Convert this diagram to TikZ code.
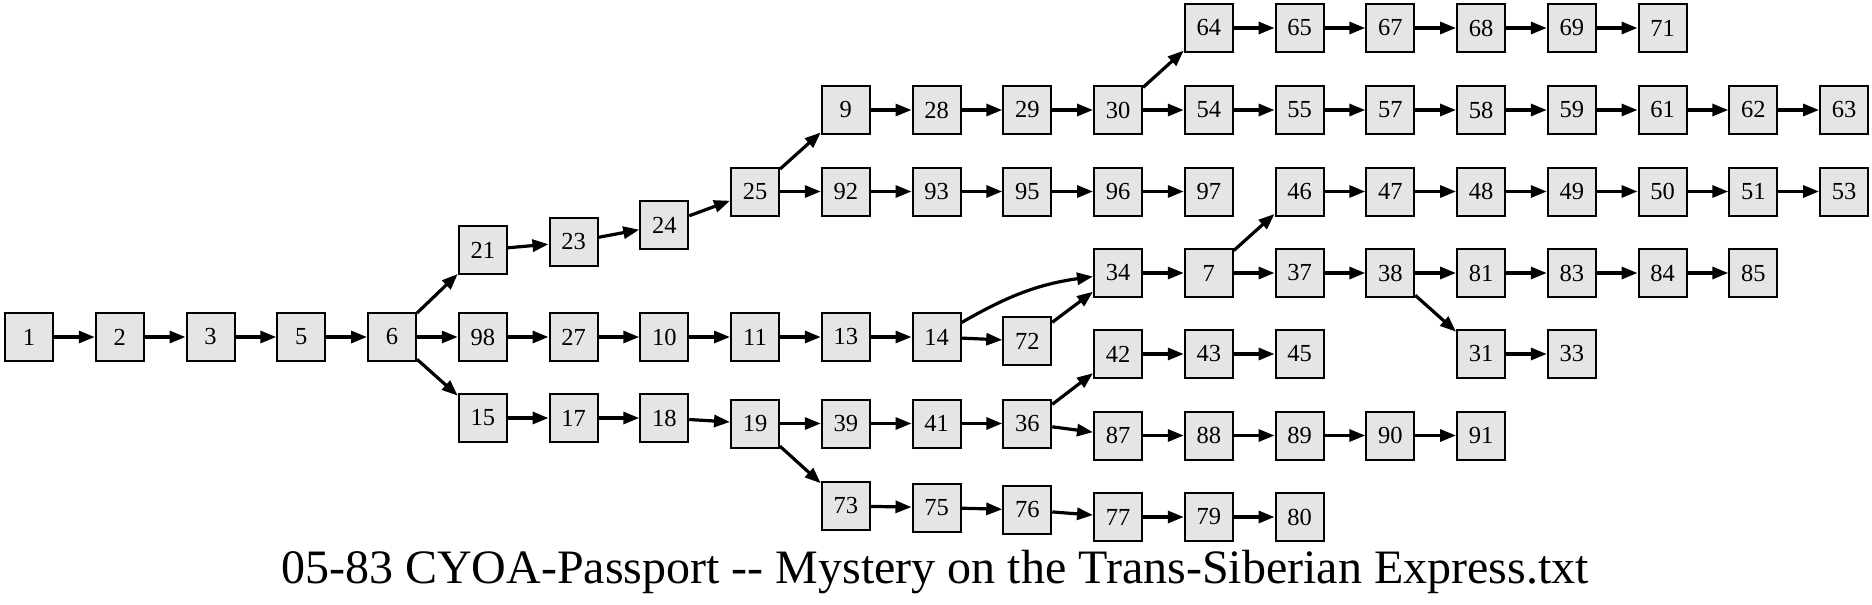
\documentclass[tikz,border=0pt]{standalone}
\usepackage{fontspec}
\setmainfont{Liberation Serif}
\usetikzlibrary{arrows.meta}
\newcommand\mkbox[3]{\node[pbox] (n#1) at ({29+90.75*#2}, #3) {#1};}
\begin{document}
\begin{tikzpicture}[x=1pt,y=-1pt,
  pbox/.style={draw=black, line width=2pt, fill=gray!20, minimum width=48pt, minimum height=48pt, inner sep=0pt, font=\fontsize{24.5}{24.5}\selectfont},
  edge/.style={line width=3.2pt, -{Triangle[length=16pt,width=12pt]}},
  ttl/.style={font=\fontsize{48}{48}\selectfont, anchor=base, inner sep=0pt}]
\useasboundingbox (0,0) rectangle (1872,605);
% main row
\mkbox{1}{0}{337}\mkbox{2}{1}{337}\mkbox{3}{2}{337}\mkbox{5}{3}{337}\mkbox{6}{4}{337}
\mkbox{21}{5}{250}\mkbox{23}{6}{242}\mkbox{24}{7}{225}\mkbox{25}{8}{191.5}
\mkbox{9}{9}{110}\mkbox{28}{10}{110}\mkbox{29}{11}{110}\mkbox{30}{12}{110}
\mkbox{64}{13}{28}\mkbox{65}{14}{28}\mkbox{67}{15}{28}\mkbox{68}{16}{28}\mkbox{69}{17}{28}\mkbox{71}{18}{28}
\mkbox{54}{13}{110}\mkbox{55}{14}{110}\mkbox{57}{15}{110}\mkbox{58}{16}{110}\mkbox{59}{17}{110}\mkbox{61}{18}{110}\mkbox{62}{19}{110}\mkbox{63}{20}{110}
\mkbox{92}{9}{191.5}\mkbox{93}{10}{191.5}\mkbox{95}{11}{191.5}\mkbox{96}{12}{191.5}\mkbox{97}{13}{191.5}
\mkbox{98}{5}{337}\mkbox{27}{6}{337}\mkbox{10}{7}{337}\mkbox{11}{8}{337}\mkbox{13}{9}{337}\mkbox{14}{10}{337}\mkbox{72}{11}{341}
\mkbox{34}{12}{273}\mkbox{7}{13}{273}
\mkbox{46}{14}{191.5}\mkbox{47}{15}{191.5}\mkbox{48}{16}{191.5}\mkbox{49}{17}{191.5}\mkbox{50}{18}{191.5}\mkbox{51}{19}{191.5}\mkbox{53}{20}{191.5}
\mkbox{37}{14}{273}\mkbox{38}{15}{273}\mkbox{81}{16}{273}\mkbox{83}{17}{273}\mkbox{84}{18}{273}\mkbox{85}{19}{273}
\mkbox{31}{16}{354}\mkbox{33}{17}{354}
\mkbox{15}{5}{418}\mkbox{17}{6}{418}\mkbox{18}{7}{418}\mkbox{19}{8}{423.5}
\mkbox{39}{9}{423.5}\mkbox{41}{10}{423.5}\mkbox{36}{11}{423.5}
\mkbox{42}{12}{354}\mkbox{43}{13}{354}\mkbox{45}{14}{354}
\mkbox{87}{12}{435.5}\mkbox{88}{13}{435.5}\mkbox{89}{14}{435.5}\mkbox{90}{15}{435.5}\mkbox{91}{16}{435.5}
\mkbox{73}{9}{506}\mkbox{75}{10}{507.5}\mkbox{76}{11}{510}\mkbox{77}{12}{517}\mkbox{79}{13}{517}\mkbox{80}{14}{517}
% edges
\foreach \a/\b in {1/2,2/3,3/5,5/6,6/21,6/98,6/15,21/23,23/24,24/25,25/9,25/92,
  9/28,28/29,29/30,30/64,30/54,64/65,65/67,67/68,68/69,69/71,
  54/55,55/57,57/58,58/59,59/61,61/62,62/63,92/93,93/95,95/96,96/97,
  98/27,27/10,10/11,11/13,13/14,14/72,72/34,34/7,7/46,7/37,
  46/47,47/48,48/49,49/50,50/51,51/53,37/38,38/81,38/31,81/83,83/84,84/85,31/33,
  15/17,17/18,18/19,19/39,19/73,39/41,41/36,36/42,36/87,42/43,43/45,
  87/88,88/89,89/90,90/91,73/75,75/76,76/77,77/79,79/80}
  {\draw[edge] (n\a) -- (n\b);}
\draw[edge] (n14) to[out=30,in=188] (n34);
\node[ttl] (title) at (935,583) {05-83 CYOA-Passport {-}{-} Mystery on the Trans-Siberian Express.txt};
\end{tikzpicture}
\end{document}
